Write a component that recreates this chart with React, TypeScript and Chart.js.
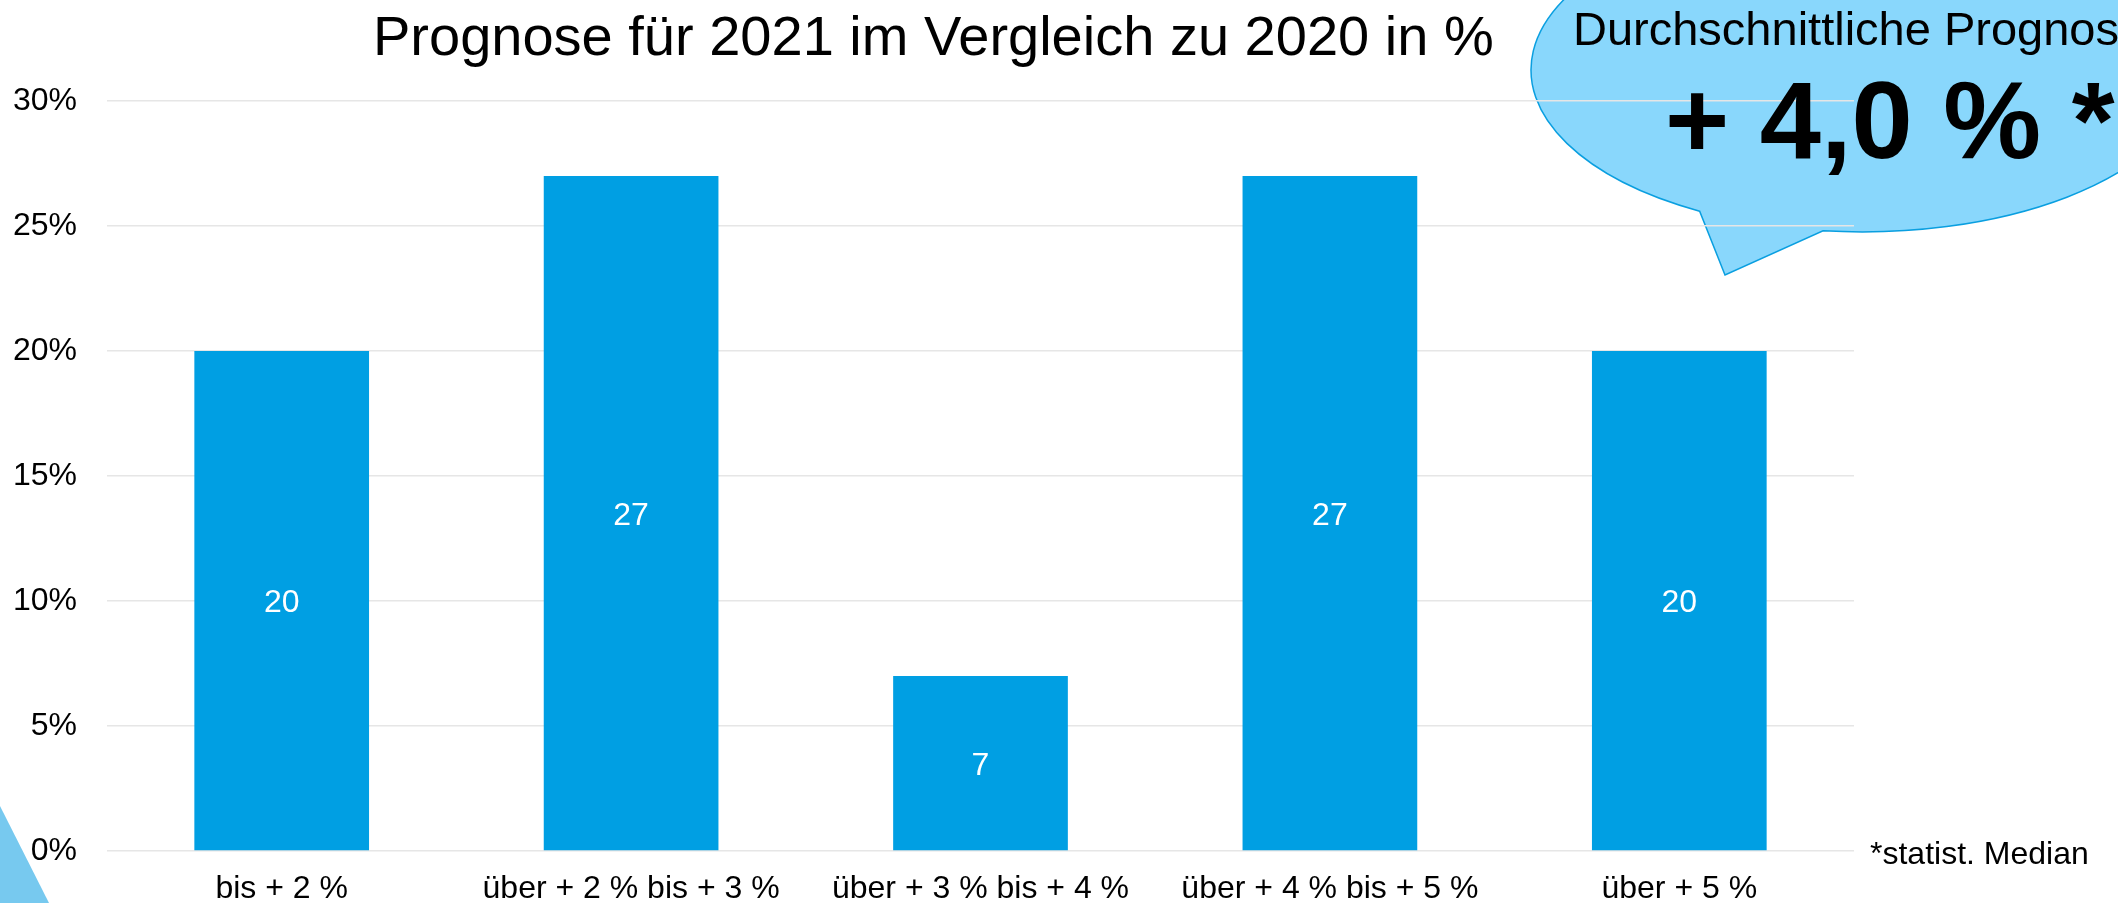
import React, { useEffect, useRef } from 'react';
import { Chart, registerables } from 'chart.js';

Chart.register(...registerables);

const categories = [
  'bis + 2 %',
  'über + 2 % bis + 3 %',
  'über + 3 % bis + 4 %',
  'über + 4 % bis + 5 %',
  'über + 5 %',
];
const values = [20, 27, 7, 27, 20];
const yMin = 0;
const yMax = 30;
const yStep = 5;
const titleText = 'Prognose für 2021 im Vergleich zu 2020 in %';
const bubbleHeading = 'Durchschnittliche Prognose';
const bubbleValue = '+ 4,0 % *';
const footnote = '*statist. Median';

const FONT = "'Liberation Sans', Arial, Helvetica, sans-serif";
const BAR_COLOR = '#009FE3';
const BUBBLE_FILL = '#89D7FC';
const BUBBLE_STROKE = '#0A9FE0';
const CORNER_FILL = '#77C9EF';
const GRID_COLOR = '#e6e6e6';

const W = 2118;
const H = 903;
const AREA_TOP = 101;
const AREA_BOTTOM = 851;
const AREA_LEFT = 107;
const AREA_RIGHT = 1854;

const decorPlugin = {
  id: 'decor',
  beforeDraw(chart: any) {
    const ctx = chart.ctx;
    ctx.save();
    // bottom-left corner triangle
    ctx.fillStyle = CORNER_FILL;
    ctx.beginPath();
    ctx.moveTo(0, 806);
    ctx.lineTo(49, H);
    ctx.lineTo(0, H);
    ctx.closePath();
    ctx.fill();

    // speech bubble
    const cx = 1862, cy = 70, a = 331, b = 162;
    const angOf = (x: number, y: number) => Math.atan2((y - cy) / b, (x - cx) / a);
    const tStart = angOf(1701, 210);
    const tEnd = angOf(1823, 231);
    ctx.beginPath();
    ctx.ellipse(cx, cy, a, b, 0, tEnd, tStart, true);
    ctx.lineTo(1725, 275);
    ctx.closePath();
    ctx.fillStyle = BUBBLE_FILL;
    ctx.fill();
    ctx.lineWidth = 1.5;
    ctx.strokeStyle = BUBBLE_STROKE;
    ctx.stroke();
    ctx.restore();
  },
  afterDatasetsDraw(chart: any) {
    const ctx = chart.ctx;
    const meta = chart.getDatasetMeta(0);
    ctx.save();
    ctx.fillStyle = '#ffffff';
    ctx.font = `32px ${FONT}`;
    ctx.textAlign = 'center';
    ctx.textBaseline = 'middle';
    meta.data.forEach((bar: any, i: number) => {
      const v = chart.data.datasets[0].data[i];
      ctx.fillText(String(v), bar.x, (bar.y + bar.base) / 2 + 3);
    });
    ctx.restore();
  },
  afterDraw(chart: any) {
    const ctx = chart.ctx;
    ctx.save();
    ctx.fillStyle = '#000000';
    ctx.textBaseline = 'alphabetic';
    ctx.textAlign = 'left';
    // title
    ctx.font = `56px ${FONT}`;
    ctx.fillText(titleText, 373, 55);
    // bubble texts
    ctx.font = `47px ${FONT}`;
    ctx.fillText(bubbleHeading, 1573, 45);
    ctx.font = `bold 110px ${FONT}`;
    ctx.fillText(bubbleValue, 1665, 158);
    // footnote
    ctx.font = `32px ${FONT}`;
    ctx.fillText(footnote, 1870, 864);
    ctx.restore();
  },
};

export default function App() {
  const canvasRef = useRef<HTMLCanvasElement | null>(null);

  useEffect(() => {
    const canvas = canvasRef.current;
    if (!canvas) return;
    const chart = new Chart(canvas, {
      type: 'bar',
      data: {
        labels: categories,
        datasets: [
          {
            data: values,
            backgroundColor: BAR_COLOR,
            borderWidth: 0,
            barPercentage: 0.5,
            categoryPercentage: 1.0,
          },
        ],
      },
      options: {
        responsive: false,
        animation: false,
        devicePixelRatio: 1,
        layout: { padding: { left: 0, top: AREA_TOP, right: W - AREA_RIGHT, bottom: 0 } },
        plugins: {
          legend: { display: false },
          tooltip: { enabled: false },
          title: { display: false },
        },
        scales: {
          x: {
            grid: { display: false, drawTicks: false },
            border: { display: false },
            ticks: {
              color: '#000000',
              font: { family: FONT, size: 32 },
              padding: 19,
              maxRotation: 0,
              autoSkip: false,
            },
            afterFit: (scale: any) => {
              scale.height = H - AREA_BOTTOM;
            },
          },
          y: {
            min: yMin,
            max: yMax,
            grid: { color: GRID_COLOR, lineWidth: 1.5, drawTicks: false },
            border: { display: false },
            ticks: {
              stepSize: yStep,
              color: '#000000',
              font: { family: FONT, size: 32 },
              padding: 30,
              callback: (v: any) => `${v}%`,
            },
            afterFit: (scale: any) => {
              scale.width = AREA_LEFT;
            },
          },
        },
      },
      plugins: [decorPlugin],
    });
    return () => chart.destroy();
  }, []);

  return (
    <div style={{ position: 'fixed', left: 0, top: 0, width: W, height: H, background: '#ffffff' }}>
      <canvas ref={canvasRef} width={W} height={H} style={{ width: W, height: H, display: 'block' }} />
    </div>
  );
}
